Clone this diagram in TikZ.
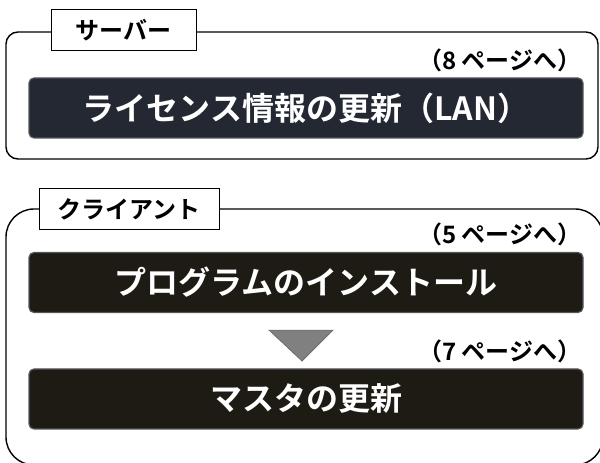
\documentclass[tikz,border=0pt]{standalone}
\usepackage{fontspec}
\setmainfont{Noto Sans CJK JP}[BoldFont={Noto Sans CJK JP Bold}]
\usetikzlibrary{calc}
\definecolor{srvfill}{HTML}{232833}
\definecolor{clifill}{HTML}{1E1B14}
\definecolor{boxedge}{HTML}{55565A}
\definecolor{trifill}{HTML}{808080}

\begin{document}
\begin{tikzpicture}[
  x=1pt, y=1pt,
  zone/.style={draw, line width=1.4pt, rounded corners=#1, inner sep=0pt},
  tag/.style={draw, fill=white, line width=1pt, inner sep=0pt,
    minimum height=41pt, font=\bfseries\fontsize{24}{24}\selectfont},
  task/.style={draw=boxedge, line width=1.2pt, fill=#1, rounded corners=5pt,
    minimum width=554pt, minimum height=60pt, inner sep=0pt,
    text=white, font=\bfseries\fontsize{32}{32}\selectfont},
  pagenote/.style={anchor=base east, inner sep=0pt,
    font=\bfseries\fontsize{24}{24}\selectfont},
]
\useasboundingbox (0,0) rectangle (600,463);
% server
\node[zone=12pt, minimum width=592pt, minimum height=127pt] (server) at (302,367.5) {};
\node[tag, minimum width=145pt] (servertag) at (123.5,432.5) {サーバー};
\node[task=srvfill] (lic) at (306,355) {ライセンス情報の更新（LAN）};
\node[pagenote] (licpage) at ($(lic.north east)+(-2,8)$) {（8 ページへ）};
% client
\node[zone=28pt, minimum width=597pt, minimum height=256pt] (client) at (304.5,126) {};
\node[tag, minimum width=180pt] (clienttag) at (129,254) {クライアント};
\node[task=clifill] (prog) at (306,180.5) {プログラムのインストール};
\node[pagenote] (progpage) at ($(prog.north east)+(-2,8)$) {（5 ページへ）};
\node[task=clifill] (master) at (306,64) {マスタの更新};
\node[pagenote] (masterpage) at ($(master.north east)+(-2,8)$) {（7 ページへ）};
\filldraw[fill=trifill, draw=trifill!80!black, line width=0.6pt]
  ($(prog.south)+(-37,-17)$) -- ($(prog.south)+(27,-17)$) -- ($(prog.south)+(-4,-48)$) -- cycle;
\end{tikzpicture}
\end{document}
